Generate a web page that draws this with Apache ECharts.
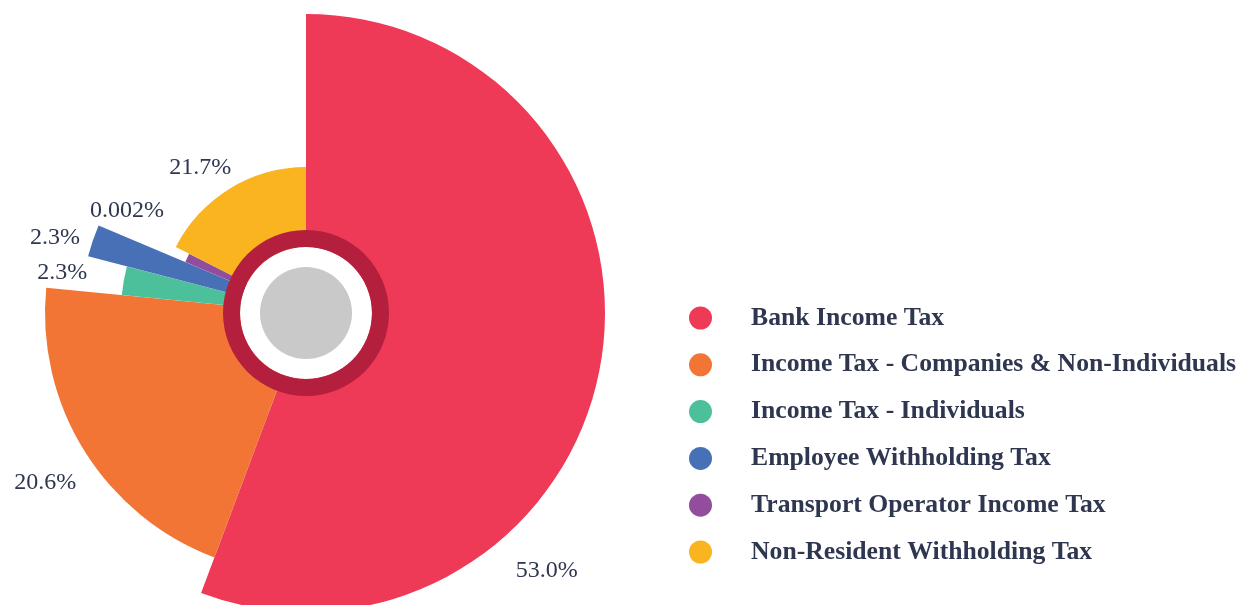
<!DOCTYPE html>
<html>
<head>
<meta charset="utf-8">
<title>Income tax collections by type</title>
<script src="https://cdn.jsdelivr.net/npm/echarts@6/dist/echarts.min.js"></script>
<style>
  html, body { margin: 0; padding: 0; background: #fff; }
  #chart { width: 1239px; height: 605px; }
</style>
</head>
<body>
<div id="chart"></div>
<script>
// slices, clockwise from 12 o'clock
var categories = [
  'Bank Income Tax',
  'Income Tax - Companies & Non-Individuals',
  'Income Tax - Individuals',
  'Employee Withholding Tax',
  'Transport Operator Income Tax',
  'Non-Resident Withholding Tax'
];
// angular share of each slice
var shares = [55.6, 20.8, 2.5, 2.3, 0.002, 17.5];
// how far each slice reaches, relative to the longest one
var reach = [1, 0.873, 0.619, 0.753, 0.438, 0.488];
// percentages as printed next to the slices
var pctLabels = ['53.0%', '20.6%', '2.3%', '2.3%', '0.002%', '21.7%'];

var colors = ['#ee3a57', '#f37535', '#4bc09b', '#4770b7', '#924e9d', '#f9b41f'];
var textColor = '#2e3650';
var CX = 306, CY = 313, R_MAX = 299;
// where the percentage labels sit: [degrees clockwise from top, distance from centre]
var labelSpots = [[137, 353], [237, 311], [279.3, 247], [286.6, 262], [299.7, 206], [324, 180]];

var myChart = echarts.init(document.getElementById('chart'));

var series = categories.map(function (name, k) {
  return {
    name: name,
    type: 'pie',
    center: [CX, CY],
    radius: [0, R_MAX * reach[k]],
    startAngle: 90,
    clockwise: true,
    minAngle: 4,
    avoidLabelOverlap: false,
    silent: true,
    label: {
      position: 'outside',
      fontFamily: 'Liberation Serif',
      fontSize: 24,
      color: textColor,
      formatter: function (p) {
        return pctLabels[p.dataIndex];
      }
    },
    labelLine: { show: false },
    labelLayout: function () {
      var a = labelSpots[k][0] * Math.PI / 180;
      return {
        x: CX + labelSpots[k][1] * Math.sin(a),
        y: CY - labelSpots[k][1] * Math.cos(a),
        align: 'center',
        verticalAlign: 'middle'
      };
    },
    data: categories.map(function (n, i) {
      return {
        name: n,
        value: shares[i],
        itemStyle: { color: i === k ? colors[i] : 'transparent', borderWidth: 0 },
        label: { show: i === k }
      };
    })
  };
});

// hub in the middle: white disc, dark ring, grey centre
function disc(r0, r1, color) {
  return {
    type: 'pie',
    center: [CX, CY],
    radius: [r0, r1],
    silent: true,
    label: { show: false },
    labelLine: { show: false },
    itemStyle: { color: color, borderWidth: 0 },
    data: [{ value: 1, name: '' }]
  };
}
series.push(disc(0, 66, '#ffffff'));
series.push(disc(66, 83, '#b41f3e'));
series.push(disc(0, 46, '#c9c9c9'));

var option = {
  animation: false,
  legend: {
    orient: 'vertical',
    left: 684,
    top: 300,
    icon: 'circle',
    itemWidth: 23,
    itemHeight: 23,
    itemGap: 20.8,
    selectedMode: false,
    textStyle: {
      fontFamily: 'Liberation Serif',
      fontWeight: 'bold',
      fontSize: 25.7,
      lineHeight: 23,
      color: textColor,
      padding: [0, 0, 0, 34]
    },
    data: categories.map(function (n, i) {
      return { name: n, itemStyle: { color: colors[i] } };
    })
  },
  series: series
};

myChart.setOption(option);
</script>
</body>
</html>
